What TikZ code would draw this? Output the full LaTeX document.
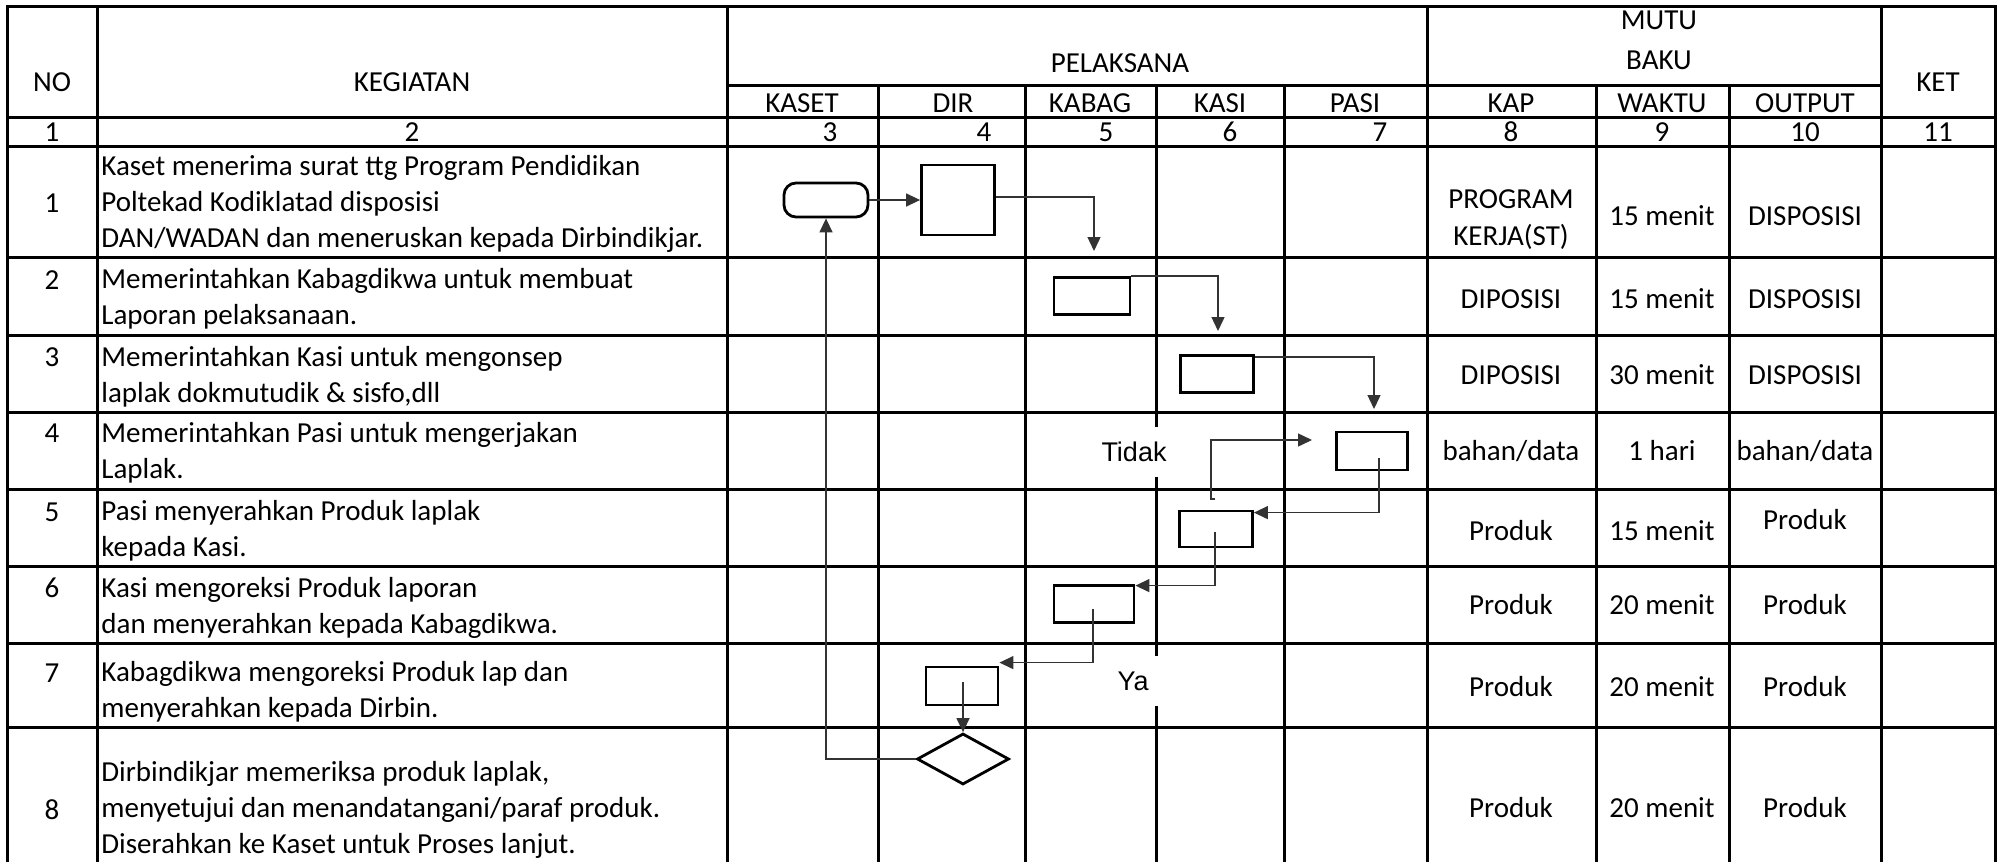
\documentclass[tikz,border=0pt]{standalone}
\usepackage{fontspec}
\setmainfont{Carlito}
\newfontfamily\arialfont{Liberation Sans}
\usetikzlibrary{arrows.meta,calc,shapes.geometric}
\begin{document}
\begin{tikzpicture}[x=0.5pt,y=-0.5pt,
  gridline/.style={line width=1.5pt, line cap=rect},
  txt/.style={font=\fontsize{14.5}{18}\selectfont, inner sep=0pt},
  cell/.style={txt, align=left, anchor=west},
  val/.style={txt, align=center},
  procbox/.style={draw, line width=1.4pt, inner sep=0pt, fill=white},
  termbox/.style={draw, line width=1.4pt, inner sep=0pt, fill=white, rounded corners=6pt, minimum width=42pt, minimum height=17pt},
  decbox/.style={diamond, draw, line width=1.4pt, inner sep=0pt, fill=white, minimum width=46pt, minimum height=25.5pt},
  conn/.style={draw=black!80, line width=0.7pt, -{Triangle[length=7pt,width=6.5pt]}},
  lbl/.style={font=\arialfont\fontsize{13.5}{16}\selectfont, fill=white, inner sep=0pt, minimum width=36pt, minimum height=25pt},
]
\useasboundingbox (0,0) rectangle (1998,862);

% ---- grid ----
\foreach \y in {6,117,146,257,335,412,489,566,643,727}
  \draw[gridline] (7,\y) -- (1995,\y);
\draw[gridline] (727,85) -- (1881,85);
\foreach \x in {7,97,727,1427,1881,1995}
  \draw[gridline] (\x,6) -- (\x,862);
\foreach \x in {878,1025,1156,1284,1596,1729}
  \draw[gridline] (\x,85) -- (\x,862);

% ---- header ----
\node[txt] (hno) at (52,82) {NO};
\node[txt] (hkeg) at (412,82) {KEGIATAN};
\node[txt] (hpel) at (1120,63) {PELAKSANA};
\node[txt] (hmutu) at (1659,20) {MUTU};
\node[txt] (hbaku) at (1659,60) {BAKU};
\node[txt] (hket) at (1938,82) {KET};
\node[txt] (hkaset) at (802,103) {KASET};
\node[txt] (hdir) at (953,103) {DIR};
\node[txt] (hkabag) at (1090,103) {KABAG};
\node[txt] (hkasi) at (1220,103) {KASI};
\node[txt] (hpasi) at (1355,103) {PASI};
\node[txt] (hkap) at (1511,103) {KAP};
\node[txt] (hwaktu) at (1662,103) {WAKTU};
\node[txt] (houtput) at (1805,103) {OUTPUT};

\node[txt] (c1) at (52,132) {1};
\node[txt] (c2) at (412,132) {2};
\node[txt] (c3) at (830,132) {3};
\node[txt] (c4) at (984,132) {4};
\node[txt] (c5) at (1106,132) {5};
\node[txt] (c6) at (1230,132) {6};
\node[txt] (c7) at (1380,132) {7};
\node[txt] (c8) at (1511,132) {8};
\node[txt] (c9) at (1662,132) {9};
\node[txt] (c10) at (1805,132) {10};
\node[txt] (c11) at (1938,132) {11};

% ---- rows: numbers ----
\node[txt] (n1) at (52,203) {1};
\node[txt] (n2) at (52,280) {2};
\node[txt] (n3) at (52,357) {3};
\node[txt] (n4) at (52,433) {4};
\node[txt] (n5) at (52,512) {5};
\node[txt] (n6) at (52,588) {6};
\node[txt] (n7) at (52,673) {7};
\node[txt] (n8) at (52,810) {8};

% ---- rows: kegiatan ----
\node[cell] (k1) at (101,203.5) {Kaset menerima surat ttg Program Pendidikan\\Poltekad Kodiklatad disposisi\\DAN/WADAN dan meneruskan kepada Dirbindikjar.};
\node[cell] (k2) at (101,298.5) {Memerintahkan Kabagdikwa untuk membuat\\Laporan pelaksanaan.};
\node[cell] (k3) at (101,376.5) {Memerintahkan Kasi untuk mengonsep\\laplak dokmutudik \& sisfo,dll};
\node[cell] (k4) at (101,453) {Memerintahkan Pasi untuk mengerjakan\\Laplak.};
\node[cell] (k5) at (101,531) {Pasi menyerahkan Produk laplak\\kepada Kasi.};
\node[cell] (k6) at (101,607.5) {Kasi mengoreksi Produk laporan\\dan menyerahkan kepada Kabagdikwa.};
\node[cell] (k7) at (101,691.5) {Kabagdikwa mengoreksi Produk lap dan\\menyerahkan kepada Dirbin.};
\node[cell] (k8) at (101,810) {Dirbindikjar memeriksa produk laplak,\\menyetujui dan menandatangani/paraf produk.\\Diserahkan ke Kaset untuk Proses lanjut.};

% ---- rows: mutu baku ----
\node[val, font=\fontsize{14.5}{18.5}\selectfont] (p1) at (1511,220) {PROGRAM\\KERJA(ST)};
\node[val] (w1) at (1662,216) {15 menit};
\node[val] (o1) at (1805,216) {DISPOSISI};
\node[val] (p2) at (1511,299) {DIPOSISI};
\node[val] (w2) at (1662,299) {15 menit};
\node[val] (o2) at (1805,299) {DISPOSISI};
\node[val] (p3) at (1511,375) {DIPOSISI};
\node[val] (w3) at (1662,375) {30 menit};
\node[val] (o3) at (1805,375) {DISPOSISI};
\node[val] (p4) at (1511,451) {bahan/data};
\node[val] (w4) at (1662,451) {1 hari};
\node[val] (o4) at (1805,451) {bahan/data};
\node[val] (p5) at (1511,531) {Produk};
\node[val] (w5) at (1662,531) {15 menit};
\node[val] (o5) at (1805,520) {Produk};
\node[val] (p6) at (1511,605) {Produk};
\node[val] (w6) at (1662,605) {20 menit};
\node[val] (o6) at (1805,605) {Produk};
\node[val] (p7) at (1511,687) {Produk};
\node[val] (w7) at (1662,687) {20 menit};
\node[val] (o7) at (1805,687) {Produk};
\node[val] (p8) at (1511,808) {Produk};
\node[val] (w8) at (1662,808) {20 menit};
\node[val] (o8) at (1805,808) {Produk};

% ---- flowchart shapes ----
\node[termbox] (t1) at (826,200) {};
\node[procbox, minimum width=36.5pt, minimum height=35pt] (dir1) at (958,200) {};
\node[procbox, minimum width=38pt, minimum height=18.5pt] (kabag2) at (1092,296) {};
\node[procbox, minimum width=36.5pt, minimum height=18.5pt] (kasi3) at (1217,374) {};
\node[procbox, minimum width=35.5pt, minimum height=19pt] (pasi4) at (1372,451) {};
\node[procbox, minimum width=36.5pt, minimum height=18pt] (kasi5) at (1216,529) {};
\node[procbox, minimum width=40pt, minimum height=18.5pt] (kabag6) at (1094,604) {};
\node[procbox, minimum width=36pt, minimum height=19pt] (dir7) at (962,686) {};
\node[decbox] (dec8) at (963,759) {};

\coordinate (a1) at (1094,251);
\coordinate (a2) at (1218,331);
\coordinate (a3) at (1374,409);
\coordinate (ts) at (1215,499);
\coordinate (te) at (1312,440);

% ---- connectors ----
\draw[conn] (t1.east) -- (dir1.west);
\draw[conn] ($(dir1.east)+(0,-3)$) -| (a1);
\draw[conn] (kabag2.north east) -| (a2);
\draw[conn] ($(kasi3.north east)+(0,3)$) -| (a3);
\draw[conn] ($(pasi4.center)+(7,7)$) |- ($(kasi5.north east)+(0,3)$);
\draw[conn] (ts) -- ++(-4,0) |- (te);
\draw[conn] ($(kasi5.center)+(-1,3)$) |- ($(kabag6.north east)+(0,1.5)$);
\draw[conn] ($(kabag6.center)+(-1,5)$) |- ($(dir7.north east)+(0,-3)$);
\draw[conn] ($(dir7.center)+(1,-4)$) -- (dec8.north);
\draw[conn] (dec8.west) -| (t1.south);

% ---- decision labels ----
\node[lbl] (tidak) at (1134,452) {Tidak};
\node[lbl] (ya) at (1133,681) {Ya};
\end{tikzpicture}
\end{document}
